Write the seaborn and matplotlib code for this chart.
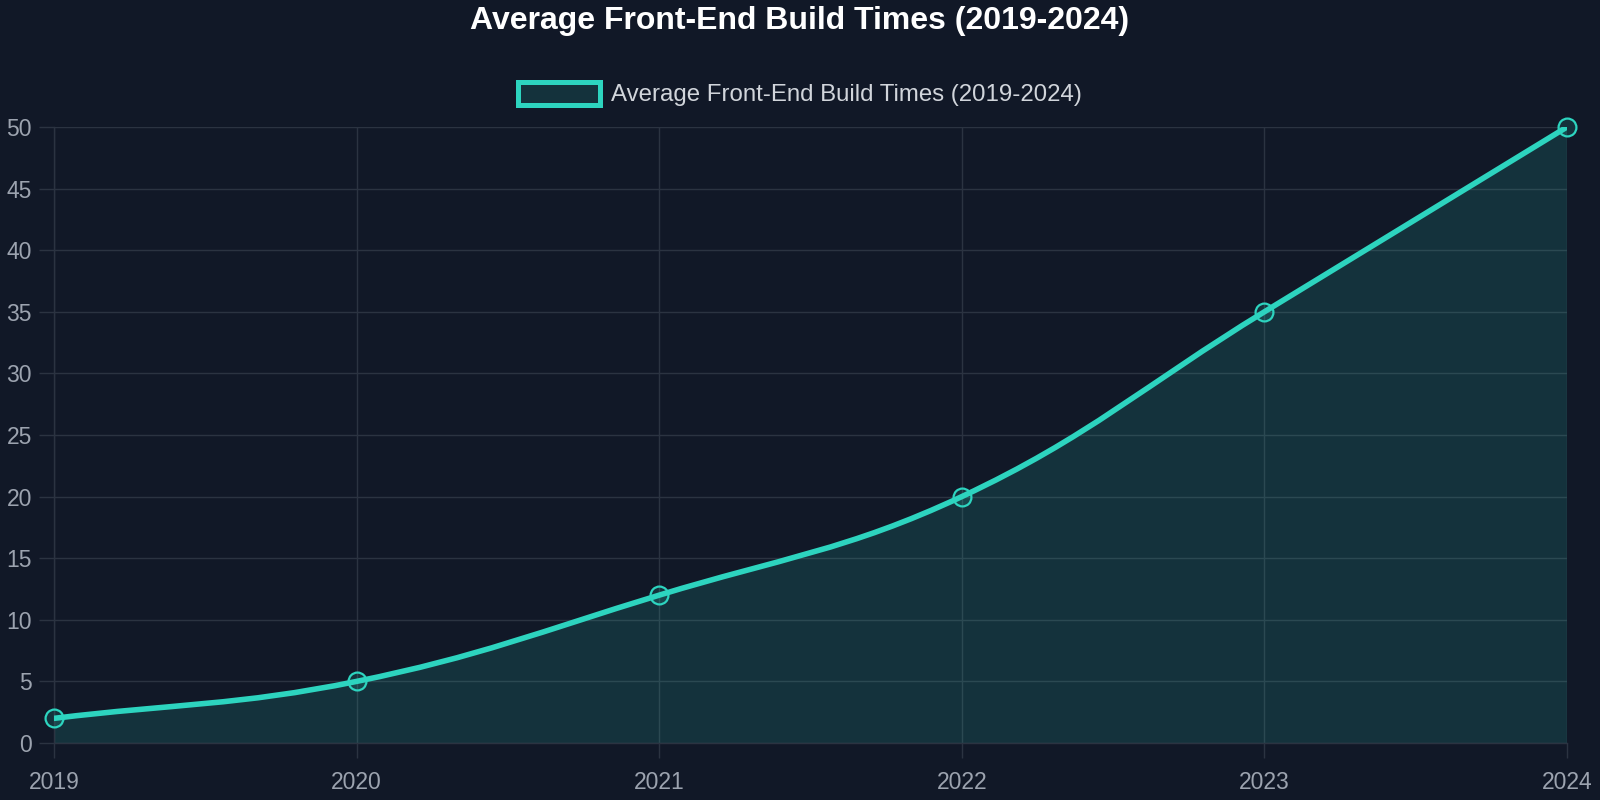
import numpy as np
import pandas as pd
import matplotlib
matplotlib.use("Agg")
import matplotlib.pyplot as plt
import seaborn as sns
from matplotlib.path import Path
from matplotlib.patches import PathPatch, Patch

years = ["2019", "2020", "2021", "2022", "2023", "2024"]
build_times = [2, 5, 12, 20, 35, 50]
series_name = "Average Front-End Build Times (2019-2024)"
y_ticks = [0, 5, 10, 15, 20, 25, 30, 35, 40, 45, 50]

BG = "#111827"
TEAL = "#2dd4bf"
GRID = "#2b3341"
TICK = "#9ca3af"

sns.set_theme(style="dark")
plt.rcParams["font.family"] = ["Liberation Sans", "DejaVu Sans"]

df = pd.DataFrame({"x": np.arange(len(years)), "y": build_times})

fig = plt.figure(figsize=(16, 8), dpi=100, facecolor=BG)
L, R, T, B = 54, 1567, 127, 743
ax = fig.add_axes([L / 1600, 1 - B / 800, (R - L) / 1600, (B - T) / 800])
ax.set_facecolor(BG)
ax.set_xlim(0, len(years) - 1)
ax.set_ylim(0, 50)

fig.canvas.draw()
# Chart.js-like bezier curve with tension 0.4 computed in pixel space
pts = ax.transData.transform(np.column_stack([df["x"], df["y"]]))
t = 0.4
n = len(pts)
cps = []
for i in range(n):
    prev = pts[max(i - 1, 0)]
    cur = pts[i]
    nxt = pts[min(i + 1, n - 1)]
    d01 = np.hypot(*(cur - prev))
    d12 = np.hypot(*(nxt - cur))
    tot = d01 + d12
    s01 = d01 / tot if tot else 0
    s12 = d12 / tot if tot else 0
    cp_prev = cur - t * s01 * (nxt - prev)
    cp_next = cur + t * s12 * (nxt - prev)
    cps.append((cp_prev, cp_next))
verts = [pts[0]]
codes = [Path.MOVETO]
for i in range(n - 1):
    verts += [cps[i][1], cps[i + 1][0], pts[i + 1]]
    codes += [Path.CURVE4] * 3
inv = ax.transData.inverted()
verts_d = inv.transform(np.array(verts))
line_path = Path(verts_d, codes)

fill_verts = list(verts_d) + [[df["x"].iloc[-1], 0], [df["x"].iloc[0], 0], verts_d[0]]
fill_codes = codes + [Path.LINETO, Path.LINETO, Path.CLOSEPOLY]
ax.add_patch(PathPatch(Path(fill_verts, fill_codes), facecolor=TEAL, alpha=0.14,
                       edgecolor="none", zorder=1.5))
ax.add_patch(PathPatch(line_path, facecolor="none", edgecolor=TEAL, lw=4.0,
                       capstyle="round", joinstyle="round", zorder=3))

sns.scatterplot(data=df, x="x", y="y", ax=ax, s=165, marker="o",
                facecolor=(45 / 255, 212 / 255, 191 / 255, 0.14),
                edgecolor=TEAL, linewidth=1.6, zorder=4, legend=False)
for c in ax.collections:
    c.set_clip_on(False)

ax.set_xticks(df["x"])
ax.set_xticklabels(years)
ax.set_yticks(y_ticks)
ax.set_xlabel("")
ax.set_ylabel("")
ax.grid(True, color=GRID, linewidth=1, zorder=1)
ax.set_axisbelow(True)
for s in ["top", "right"]:
    ax.spines[s].set_visible(False)
for s in ["left", "bottom"]:
    ax.spines[s].set_color(GRID)
    ax.spines[s].set_linewidth(1)
ax.tick_params(axis="both", colors=GRID, labelcolor=TICK, labelsize=16.5,
               length=11, width=1, direction="out", left=True, bottom=True)
ax.tick_params(axis="x", pad=9)
ax.tick_params(axis="y", pad=5)

fig.text(0.5, 1 - 21 / 800, series_name, ha="center", va="center",
         color="white", fontsize=23, fontweight="bold")

handle = Patch(facecolor=(45 / 255, 212 / 255, 191 / 255, 0.14), edgecolor=TEAL, linewidth=3.6)
leg = fig.legend([handle], [series_name], loc="center", bbox_to_anchor=(0.5, 1 - 94 / 800),
                 frameon=False, fontsize=17.3, handlelength=3.4, handleheight=1.1,
                 handletextpad=0.45, labelcolor="#d1d5db")

fig.savefig("out.png", dpi=100, facecolor=BG)
